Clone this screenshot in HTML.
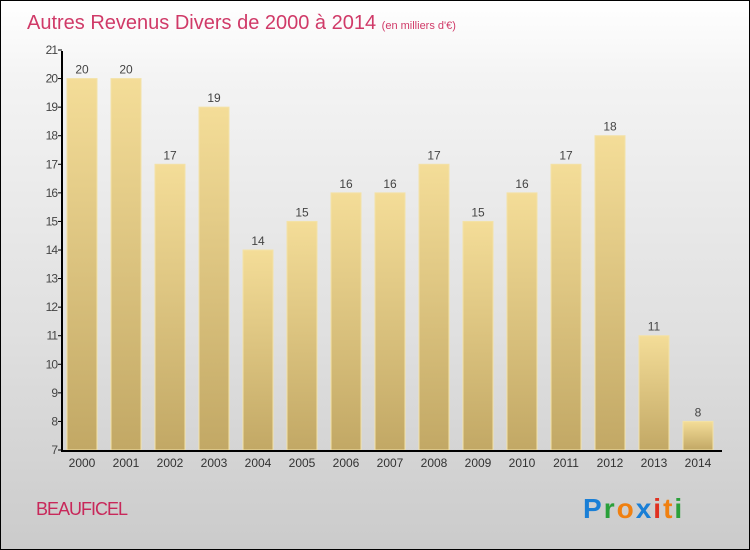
<!DOCTYPE html>
<html><head><meta charset="utf-8"><style>
body{margin:0}
#c{position:relative;width:748px;height:548px;border:1px solid #000;background:linear-gradient(#fff,#f3f3f3 15%,#e0e0e0 60%,#cbcbcb);font-family:"Liberation Sans",sans-serif;overflow:hidden}
</style></head><body>
<div id="c">
<svg id="s" width="748" height="548">
<defs><linearGradient id="g" x1="0" y1="0" x2="0" y2="1"><stop offset="0" stop-color="#f4dd98"/><stop offset="1" stop-color="#c2a865"/></linearGradient></defs>
<text x="26" y="28" font-size="20" fill="#d03a68">Autres Revenus Divers de 2000 à 2014 <tspan font-size="11">(en milliers d'€)</tspan></text>
<text x="35" y="514" font-size="18" fill="#c8285a" letter-spacing="-1">BEAUFICEL</text>
<g font-size="28" font-family="'Liberation Sans',sans-serif" font-weight="bold" letter-spacing="2"><text x="582" y="517"><tspan fill="#1a7fd6">P</tspan><tspan fill="#2aa03a">r</tspan><tspan fill="#f08010">o</tspan><tspan fill="#1a7fd6">x</tspan><tspan fill="#e03020">i</tspan><tspan fill="#f08010">t</tspan><tspan fill="#2aa03a">i</tspan></text></g>
<g id="plot"></g>
</svg></div>
<script>
const years=["2000","2001","2002","2003","2004","2005","2006","2007","2008","2009","2010","2011","2012","2013","2014"];
const values=[20,20,17,19,14,15,16,16,17,15,16,17,18,11,8];
const yTicks=[7,8,9,10,11,12,13,14,15,16,17,18,19,20,21];
const ns="http://www.w3.org/2000/svg";
const p=document.getElementById('plot');
const y0=449,yUnit=400/14,ymin=7;
const ys=v=>y0-(v-ymin)*yUnit;
const xs=i=>81+44*i;
function el(t,a){const e=document.createElementNS(ns,t);for(const k in a)e.setAttribute(k,a[k]);p.appendChild(e);return e;}
values.forEach((v,i)=>{
 const r=el('rect',{x:xs(i)-15,y:ys(v),width:30,height:y0-ys(v),fill:'url(#g)',stroke:'#f3e2a8','stroke-width':1});
 
 
 const t=el('text',{x:xs(i),y:ys(v)-5,'text-anchor':'middle','font-size':12,fill:'#444'});t.textContent=v;
 
 
 const xl=el('text',{x:xs(i),y:466,'text-anchor':'middle','font-size':12,fill:'#333'});xl.textContent=years[i];
 
 
});
yTicks.forEach(v=>{
 el('line',{x1:57,x2:61,y1:ys(v),y2:ys(v),stroke:'#000'});
 const t=el('text',{x:56,y:ys(v)+4,'text-anchor':'end','font-size':12,fill:'#444','letter-spacing':'-1'});t.textContent=v;
 
 
});
const ya=el('line',{x1:61,x2:61,y1:50,y2:450,stroke:'#000','stroke-width':2});


const xa=el('line',{x1:60,x2:721,y1:450,y2:450,stroke:'#000','stroke-width':2});


</script>
</body></html>
